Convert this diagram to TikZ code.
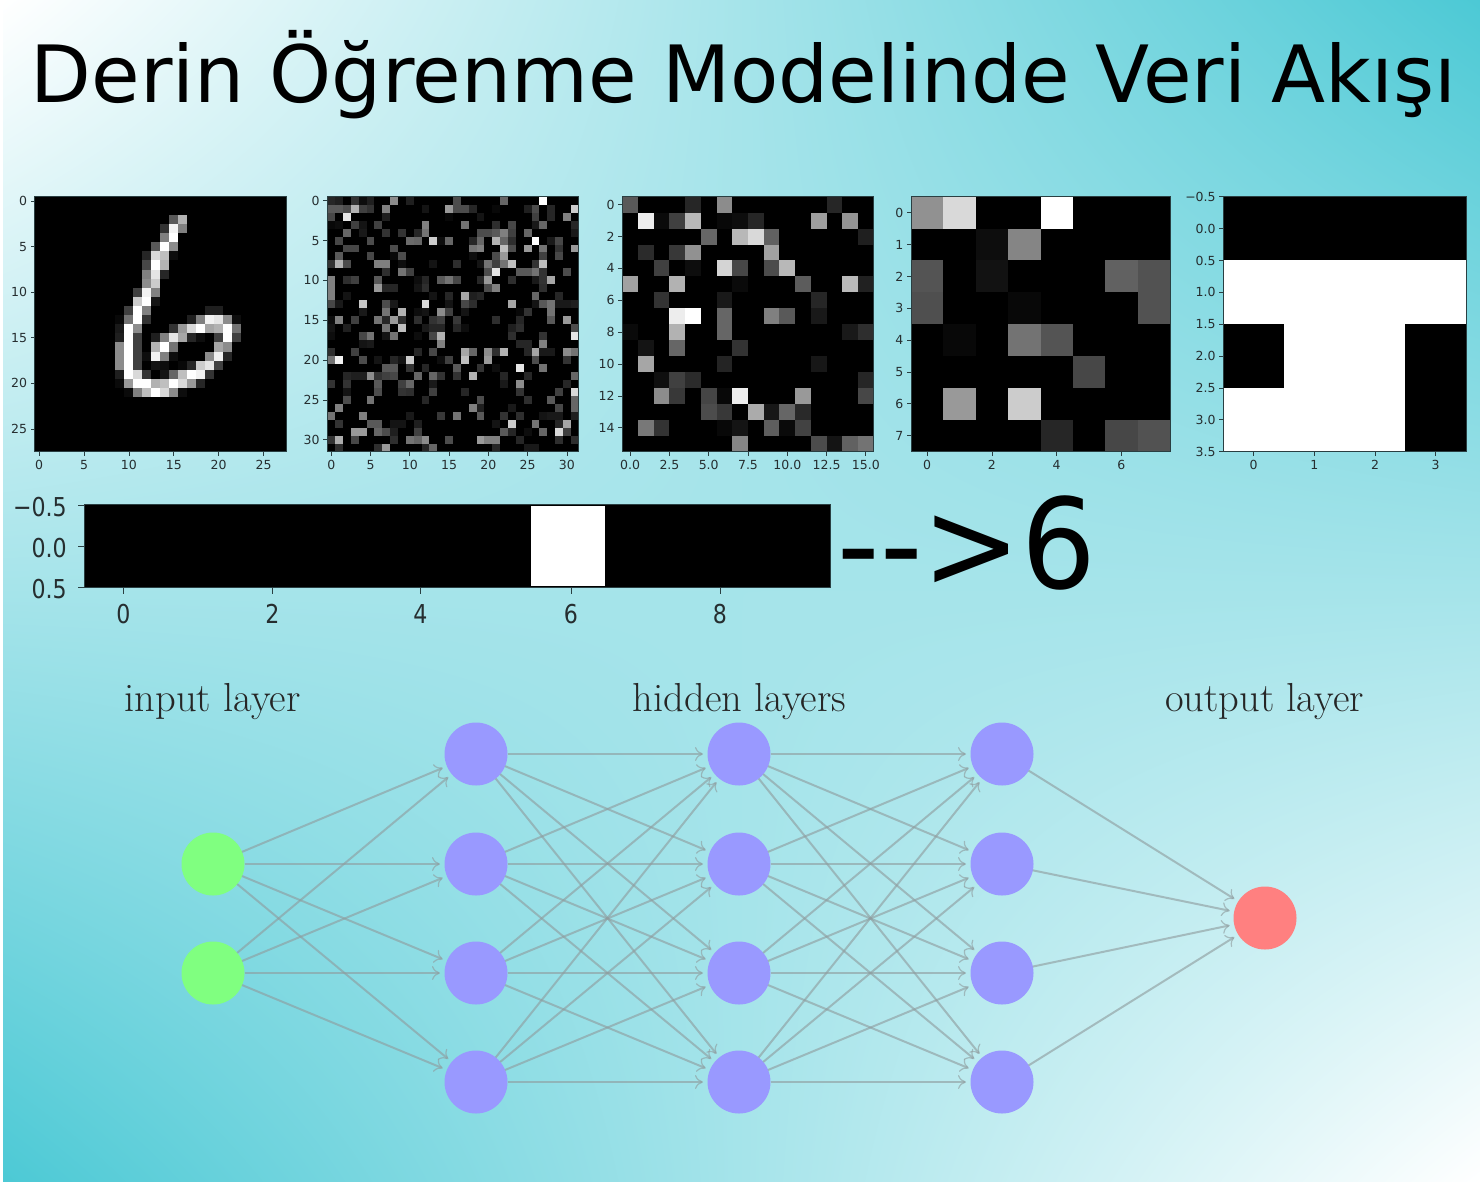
\documentclass[tikz,border=0pt]{standalone}
\usepackage{fontspec}
\usetikzlibrary{arrows.meta,shadings}
\newfontfamily\djf{DejaVu Sans}
\newfontfamily\djn[FakeStretch=0.85]{DejaVu Sans}
\newfontfamily\djr[FakeStretch=0.94]{DejaVu Sans}
\definecolor{teal1}{HTML}{4CC9D5}
\definecolor{ticktxt}{HTML}{262E30}
\definecolor{framec}{HTML}{2A3F42}
\newcommand{\cellsgrid}[7]{% x0 y0 x1 y1 nx ny rows
  \fill[black] (#1,#2) rectangle (#3,#4);
  \foreach \r/\vals in {#7} {
    \foreach \c/\g in \vals {
      \fill[white!\g!black] ({#1+\c*(#3-#1)/#5},{#2+\r*(#4-#2)/#6}) rectangle ({#1+(\c+1)*(#3-#1)/#5},{#2+(\r+1)*(#4-#2)/#6});
    }
  }
}
\newcommand{\axesset}[9]{% name x0 y0 x1 y1 nx ny xticks yticks
  \draw[framestyle] (#2,#3) rectangle (#4,#5);
  \foreach \v/\l [count=\n] in {#8} {
    \draw[tickstyle] ({#2+(\v+.5)*(#4-#2)/#6},#5) -- ++(0,4);
    \node[ticklabel,name=#1x\n] at ({#2+(\v+.5)*(#4-#2)/#6},{#5+13.5}) {\l};
  }
  \foreach \v/\l [count=\n] in {#9} {
    \draw[tickstyle] (#2,{#3+(\v+.5)*(#5-#3)/#7}) -- ++(-4,0);
    \node[ticklabel,anchor=east,name=#1y\n] at ({#2-7.5},{#3+(\v+.5)*(#5-#3)/#7}) {\l};
  }
}
\tikzset{
  framestyle/.style={draw=framec,line width=0.9pt},
  tickstyle/.style={draw=framec,line width=0.8pt},
  ticklabel/.style={inner sep=0pt,text=ticktxt,font=\djf\fontsize{12.5}{13}\selectfont},
  barlabel/.style={inner sep=0pt,text=ticktxt,font=\djn\fontsize{26}{28}\selectfont},
  layerlabel/.style={inner sep=0pt,anchor=base,text=black!85,font=\fontsize{40.5}{43}\selectfont},
  neuron/.style={circle,inner sep=0pt,outer sep=0pt,minimum size=63pt},
  inputn/.style={neuron,fill=inputc},
  hiddenn/.style={neuron,fill=hiddenc},
  outputn/.style={neuron,fill=outputc},
  edge/.style={draw=edgec,draw opacity=0.62,line width=2pt,shorten >=4.5pt,-{Computer Modern Rightarrow[length=8pt,width=14pt,line width=1.2pt]}},
}
\definecolor{inputc}{HTML}{80FF80}
\definecolor{hiddenc}{HTML}{9999FF}
\definecolor{outputc}{HTML}{FF8080}
\definecolor{edgec}{HTML}{8F9C9E}
\begin{document}
\begin{tikzpicture}[x=1pt,y=-1pt]
\useasboundingbox (0,0) rectangle (1480,1181);
\fill[white] (0,0) rectangle (1480,1181);
\shade[upper left=white,upper right=teal1,lower left=teal1,lower right=white] (3,0) rectangle (1480,1181);
\node[anchor=base,inner sep=0pt,font=\djf\fontsize{79}{84}\selectfont] (title) at (743.5,102.5) {Derin Öğrenme Modelinde Veri Akışı};
% image 1
\cellsgrid{34.7}{196.7}{286}{451.7}{28}{28}{
2/{15/35,16/70},
3/{14/20,15/95,16/50},
4/{14/50,15/100},
5/{13/35,14/100,15/55},
6/{12/15,13/85,14/75,15/5},
7/{12/28,13/100,14/70},
8/{12/50,13/90,14/15},
9/{12/55,13/80},
10/{11/25,12/95,13/50},
11/{11/80,12/100,13/8},
12/{10/25,11/100,12/50,19/12,20/12},
13/{9/3,10/45,11/100,12/20,17/12,18/50,19/95,20/90,21/55,22/5},
14/{9/10,10/100,11/55,15/20,16/60,17/85,18/100,19/65,20/70,21/100,22/45},
15/{9/12,10/100,11/25,13/12,14/50,15/90,16/65,17/15,18/5,20/25,21/100,22/25},
16/{9/55,10/100,11/25,13/70,14/100,15/45,20/65,21/55},
17/{9/55,10/100,11/25,12/5,13/95,14/50,15/5,19/55,20/95,21/15},
18/{9/55,10/100,11/25,13/8,14/5,16/3,17/15,18/80,19/90,20/25},
19/{9/12,10/100,11/85,12/20,14/8,15/40,16/75,17/100,18/95,19/20},
20/{9/4,10/60,11/100,12/100,13/70,14/75,15/100,16/85,17/60,18/15},
21/{10/4,11/50,12/75,13/100,14/85,15/55,16/5}}
\axesset{a}{34.7}{196.7}{286}{451.7}{28}{28}{0,5,10,15,20,25}{0,5,10,15,20,25}
% image 2
\cellsgrid{327.3}{196.7}{578.7}{451.7}{32}{32}{
0/{0/15,1/12,3/20,4/5,5/12,8/55,10/12,16/30,22/40,27/100},
1/{0/35,1/35,2/30,3/70,4/25,5/20,7/50,12/8,15/60,16/30,17/30,18/15,21/3,25/12,26/30,28/15,31/80},
2/{0/28,2/90,7/12,15/3,19/8,26/25,28/15,30/50},
3/{0/3,1/5,3/25,4/8,6/25,12/50,17/45,21/18,23/28,26/10,27/40,31/15},
4/{2/40,4/10,7/20,9/20,11/15,12/45,19/30,20/30,21/35,22/50,23/25,25/40,31/10},
5/{1/28,5/30,10/42,11/40,13/80,14/5,15/40,18/15,19/40,21/70,22/40,23/18,26/100,28/10,29/28},
6/{2/28,3/28,8/30,18/45,19/50,22/75,23/30,25/60,27/45,29/20,31/60},
7/{1/35,5/28,8/3,9/30,18/5,21/30,22/60,27/25,29/28},
8/{0/20,1/70,2/30,6/50,7/50,9/5,13/8,16/18,19/8,20/45,21/25,22/45,23/75,26/20,27/75},
9/{7/18,9/45,10/25,20/30,21/90,24/35,25/35,26/45,27/20,30/30},
10/{0/50,2/18,3/25,6/35,11/5,12/15,14/35,15/45,16/28,19/15,20/60,23/18,26/10,27/20,28/65},
11/{0/50,6/60,7/15,8/15,11/8,12/18,20/30,21/50,27/18},
12/{0/50,2/8,13/8,15/15,17/65,18/12,19/15,26/40,29/15},
13/{0/28,1/10,4/78,7/30,8/10,12/85,15/8,17/28,18/18,23/65,26/8,27/35,28/45,29/10,30/10,31/12},
14/{4/10,7/45,9/70,11/5,12/8,14/55,15/25,17/8,24/3,25/20,28/45},
15/{0/5,1/50,3/25,6/45,7/15,8/60,9/18,11/18,13/20,14/25,16/22,21/18,24/15,28/35,30/60},
16/{0/8,2/12,7/45,9/75,12/10,13/15,14/15,16/15,17/5,23/12,24/18,31/30},
17/{0/5,4/28,5/45,7/8,8/45,11/5,13/28,14/70,23/18,27/20,31/90},
18/{4/8,5/10,14/50,24/15,25/15,27/50},
19/{0/18,3/25,11/15,13/28,17/65,18/40,20/55,21/18,22/70,25/15,26/65,27/10,28/10,30/55,31/45},
20/{0/45,1/95,4/30,6/8,8/15,9/8,10/80,14/5,15/25,17/75,20/60,26/30,30/20},
21/{7/35,8/35,10/20,12/15,16/35,19/20,21/5,24/90,27/45},
22/{2/15,3/12,4/12,5/55,6/20,7/25,8/28,11/40,13/40,14/20,16/20,18/70,22/15,25/15,31/40},
23/{0/20,2/20,6/35,9/25,10/40,13/10,22/10,24/55,30/15},
24/{2/8,6/30,9/20,10/18,13/25,17/15,24/20,29/25,31/85},
25/{2/30,5/45,12/15,19/30,25/18,28/35,31/40},
26/{1/50,18/50,19/12,23/10,29/28,31/40},
27/{0/45,4/50,10/10,14/22,16/45,19/35,22/20,24/18,27/8,28/10,29/10,31/12},
28/{1/20,5/35,6/35,8/8,9/8,11/12,21/8,23/80,26/45,29/15,30/65},
29/{3/60,4/60,6/40,7/30,8/12,11/25,22/35,23/15,25/5,27/40,29/85,30/25},
30/{0/20,1/68,3/28,8/18,10/45,11/40,12/55,15/30,19/60,20/50,21/50,24/15,29/18,31/18},
31/{1/18,6/18,7/60,12/15,13/40,21/15,25/10,26/10}}
\axesset{b}{327.3}{196.7}{578.7}{451.7}{32}{32}{0,5,10,15,20,25,30}{0,5,10,15,20,25,30}
% image 3
\cellsgrid{622.3}{196.7}{873.7}{451.7}{16}{16}{
0/{0/35,4/15,6/55,13/15},
1/{1/93,2/4,3/25,4/72,6/3,7/5,8/15,12/62,14/58},
2/{5/40,7/72,8/85,9/38,15/12},
3/{1/17,3/22,4/57,9/63},
4/{2/25,4/5,6/83,7/28,9/30,10/72},
5/{0/63,3/70,7/4,11/36,14/73,15/13},
6/{2/20,6/10,12/15},
7/{3/93,4/100,6/40,9/50,10/35,12/10},
8/{0/4,3/70,6/40,14/10,15/18},
9/{1/8,3/40,7/20},
10/{1/65,6/14,12/9},
11/{2/6,3/25,4/17,15/15},
12/{2/55,3/22,5/27,6/3,7/93,11/60,15/28},
13/{5/30,6/22,8/67,9/9,10/40,11/16},
14/{1/47,2/20,6/3,7/8,9/37,10/4,11/26},
15/{7/52,12/30,13/8,14/38,15/45}}
\axesset{c}{622.3}{196.7}{873.7}{451.7}{16}{16}{0/0.0,2.5/2.5,5/5.0,7.5/7.5,10/10.0,12.5/12.5,15/15.0}{0,2,4,6,8,10,12,14}
% image 4
\cellsgrid{911}{196.7}{1170}{451.7}{8}{8}{
0/{0/57,1/85,4/100},
1/{2/5,3/52},
2/{0/33,2/7,6/38,7/32},
3/{0/31,3/3,7/32},
4/{1/3,3/45,4/33},
5/{5/28},
6/{1/60,3/80},
7/{4/15,6/28,7/32}}
\axesset{d}{911}{196.7}{1170}{451.7}{8}{8}{0,2,4,6}{0,1,2,3,4,5,6,7}
% image 5
\cellsgrid{1223.3}{196.7}{1466}{451.7}{4}{4}{
1/{0/100,1/100,2/100,3/100},
2/{1/100,2/100},
3/{0/100,1/100,2/100}}
\axesset{e}{1223.3}{196.7}{1466}{451.7}{4}{4}{0,1,2,3}{-0.5/−0.5,0/0.0,0.5/0.5,1/1.0,1.5/1.5,2/2.0,2.5/2.5,3/3.0,3.5/3.5}
% bar
\fill[black] (84.3,504.5) rectangle (830.5,587);
\fill[white] (531,506) rectangle (605,586);
\draw[framestyle] (84.3,504.5) rectangle (830.5,587);
\foreach \v/\px [count=\n] in {0/123.5,2/272.5,4/420.5,6/571,8/720} {
  \draw[tickstyle] (\px,587) -- ++(0,7);
  \node[barlabel,name=fx\n] at (\px,614) {\v};
}
\foreach \l/\py [count=\n] in {−0.5/505.5,0.0/546,0.5/587} {
  \draw[tickstyle] (84.3,\py) -- ++(-6,0);
  \node[barlabel,anchor=east,name=fy\n] at (67,\py+2) {\l};
}
\node[anchor=base west,inner sep=0pt,font=\djr\fontsize{125}{130}\selectfont] (result) at (837.5,588) {-\kern0pt-\kern0pt>6};
% network
\node[layerlabel] (lin) at (212.5,711) {input layer};
\node[layerlabel] (lhid) at (739.5,711) {hidden layers};
\node[layerlabel] (lout) at (1264.5,711) {output layer};
\node[inputn] (i1) at (213,864) {};
\node[inputn] (i2) at (213,973) {};
\foreach \lx [count=\k] in {476,739,1002} {
  \foreach \ly [count=\j] in {754,864,973,1082} {
    \node[hiddenn] (h\k-\j) at (\lx,\ly) {};
  }
}
\node[outputn] (o) at (1265,918) {};
\foreach \a in {1,2} \foreach \b in {1,2,3,4} \draw[edge] (i\a) -- (h1-\b);
\foreach \a in {1,2,3,4} \foreach \b in {1,2,3,4} {
  \draw[edge] (h1-\a) -- (h2-\b);
  \draw[edge] (h2-\a) -- (h3-\b);
}
\foreach \a in {1,2,3,4} \draw[edge] (h3-\a) -- (o);
\end{tikzpicture}
\end{document}
